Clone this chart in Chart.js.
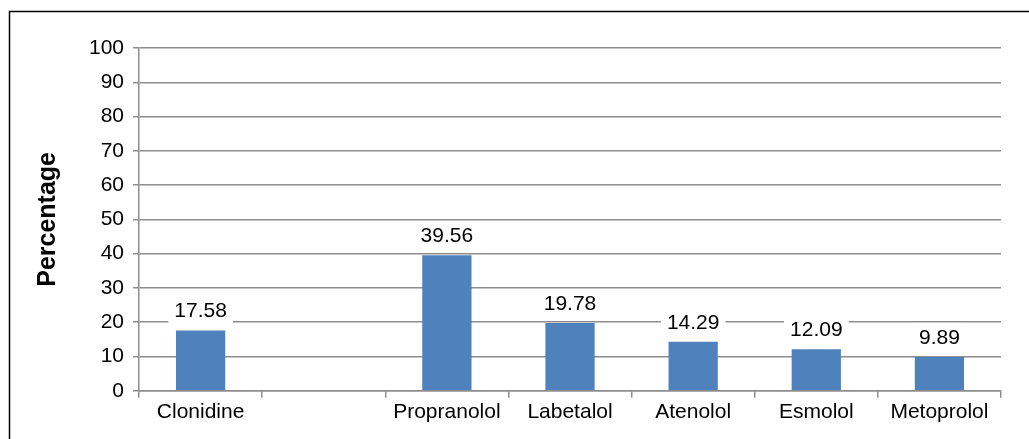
<!DOCTYPE html>
<html>
<head>
<meta charset="utf-8">
<script src="https://cdn.jsdelivr.net/npm/chart.js@4"></script>
<style>
  html, body { margin: 0; padding: 0; background: #fff; }
  #wrap { position: absolute; left: 0; top: 0; width: 1029px; height: 439px; }
</style>
</head>
<body>
<div id="wrap"><canvas id="betaChart" width="1029" height="439"></canvas></div>
<script>
// Drug categories (one blank slot between Clonidine and Propranolol)
const drugs = ['Clonidine', '', 'Propranolol', 'Labetalol', 'Atenolol', 'Esmolol', 'Metoprolol'];
const percentages = [17.58, null, 39.56, 19.78, 14.29, 12.09, 9.89];
const valueLabels = ['17.58', '', '39.56', '19.78', '14.29', '12.09', '9.89'];

// outer frame: only left and top edges are visible in the picture
const framePlugin = {
  id: 'frame',
  afterDraw(chart) {
    const ctx = chart.ctx;
    ctx.save();
    ctx.strokeStyle = '#000';
    ctx.lineWidth = 1.5;
    ctx.beginPath();
    ctx.moveTo(9.5, 439);
    ctx.lineTo(9.5, 11.5);
    ctx.lineTo(1029, 11.5);
    ctx.stroke();
    ctx.restore();
  }
};

// value labels on a white box, covering the gridlines behind them
const valueLabelPlugin = {
  id: 'valueLabels',
  afterDatasetsDraw(chart) {
    const ctx = chart.ctx;
    const meta = chart.getDatasetMeta(0);
    ctx.save();
    ctx.font = '21px "Liberation Sans", Arial, sans-serif';
    ctx.textAlign = 'center';
    ctx.textBaseline = 'middle';
    meta.data.forEach((bar, i) => {
      if (percentages[i] == null) return;
      const txt = valueLabels[i];
      const w = ctx.measureText(txt).width + 12;
      const cy = bar.y - 20;
      ctx.fillStyle = '#fff';
      ctx.fillRect(bar.x - w / 2, cy - 14, w, 28);
      ctx.fillStyle = '#000';
      ctx.fillText(txt, bar.x, cy + 1);
    });
    ctx.restore();
  }
};

const font = '"Liberation Sans", Arial';
const ctx = document.getElementById('betaChart').getContext('2d');
new Chart(ctx, {
  type: 'bar',
  data: {
    labels: drugs,
    datasets: [
      {
        label: 'Percentage',
        data: percentages,
        backgroundColor: '#4f81bd',
        barPercentage: 0.4,
        categoryPercentage: 1.0,
      },
    ],
  },
  options: {
    responsive: false,
    animation: false,
    layout: { padding: { left: 33, right: 28, top: 48, bottom: 12 } },
    scales: {
      x: {
        grid: { display: true, drawOnChartArea: false, drawTicks: true, tickLength: 7, color: '#8e8e8e', lineWidth: 1.5, offset: true },
        border: { color: '#8e8e8e', width: 1.5 },
        ticks: { font: { family: font, size: 21 }, color: '#000', padding: 2, maxRotation: 0, autoSkip: false }
      },
      y: {
        min: 0,
        max: 100,
        grid: { color: '#8e8e8e', lineWidth: 1.5, tickLength: 6 },
        border: { color: '#8e8e8e', width: 1.5 },
        ticks: { stepSize: 10, font: { family: font, size: 21 }, color: '#000', padding: 9 },
        title: { display: true, text: 'Percentage', font: { family: font, size: 25, weight: 'bold' }, color: '#000', padding: { top: 0, bottom: 17 } }
      }
    },
    plugins: {
      legend: { display: false },
      tooltip: { enabled: false }
    }
  },
  plugins: [valueLabelPlugin, framePlugin]
});
</script>
</body>
</html>
